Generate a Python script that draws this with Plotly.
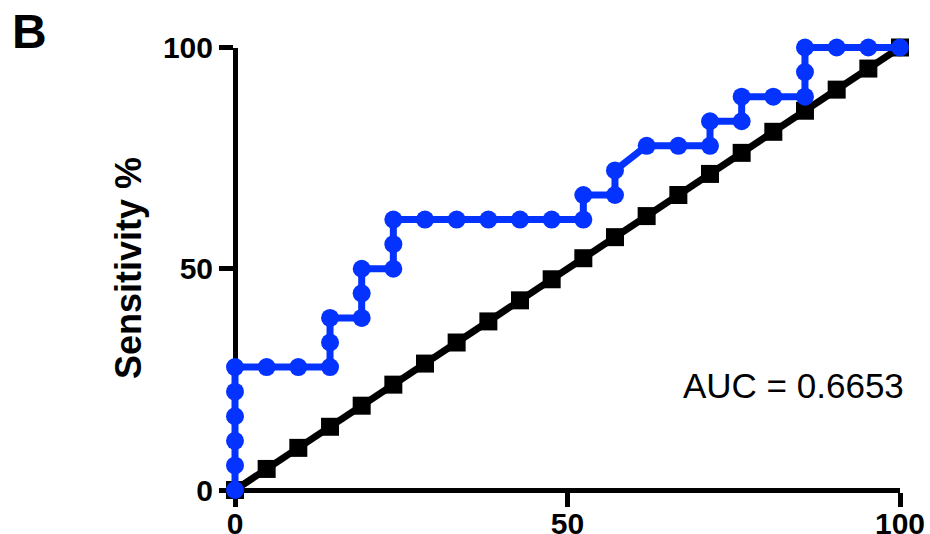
import plotly.graph_objects as go

# ROC curve: 100% - specificity (x) vs sensitivity (y), both in percent
roc_fpr = [0, 0, 0, 0, 0, 0, 4.76, 9.52, 14.29, 14.29, 14.29, 19.05, 19.05, 19.05,
           23.81, 23.81, 23.81, 28.57, 33.33, 38.10, 42.86, 47.62, 52.38, 52.38,
           57.14, 57.14, 61.90, 66.67, 71.43, 71.43, 76.19, 76.19, 80.95, 85.71,
           85.71, 85.71, 90.48, 95.24, 100]
roc_sens = [0, 5.56, 11.11, 16.67, 22.22, 27.78, 27.78, 27.78, 27.78, 33.33, 38.89,
            38.89, 44.44, 50.00, 50.00, 55.56, 61.11, 61.11, 61.11, 61.11, 61.11,
            61.11, 61.11, 66.67, 66.67, 72.22, 77.78, 77.78, 77.78, 83.33, 83.33,
            88.89, 88.89, 88.89, 94.44, 100, 100, 100, 100]

# line of identity (random classifier)
ref_x = [0, 4.76, 9.52, 14.29, 19.05, 23.81, 28.57, 33.33, 38.10, 42.86, 47.62,
         52.38, 57.14, 61.90, 66.67, 71.43, 76.19, 80.95, 85.71, 90.48, 95.24, 100]
ref_y = [0, 4.76, 9.52, 14.29, 19.05, 23.81, 28.57, 33.33, 38.10, 42.86, 47.62,
         52.38, 57.14, 61.90, 66.67, 71.43, 76.19, 80.95, 85.71, 90.48, 95.24, 100]

tick_vals = [0, 50, 100]
tick_text = ["0", "50", "100"]
auc_text = "AUC = 0.6653"
panel_label = "B"
y_title = "Sensitivity %"

W, H = 930, 534
# pixel geometry of the data box
X0, X100 = 235.0, 900.0
Y0, Y100 = 490.0, 47.5
sx = (X100 - X0) / 100.0
sy = (Y0 - Y100) / 100.0

BLUE = "#0433FF"
FONT = "Liberation Sans, Arial, Helvetica, sans-serif"

fig = go.Figure()

# identity line sits on the subplot that carries the visible axes
fig.add_trace(go.Scatter(
    x=ref_x, y=ref_y, mode="lines+markers",
    line=dict(color="black", width=7),
    marker=dict(symbol="square", size=18, color="black", line=dict(width=0)),
    cliponaxis=False, hoverinfo="skip",
))
# ROC curve on an unclipped overlay sharing the same pixel scale
fig.add_trace(go.Scatter(
    x=roc_fpr, y=roc_sens, xaxis="x2", yaxis="y2", mode="lines+markers",
    line=dict(color=BLUE, width=7),
    marker=dict(symbol="circle", size=18, color=BLUE, line=dict(width=0)),
    cliponaxis=False,
))

axis_style = dict(
    range=[0, 100], tickmode="array", tickvals=tick_vals, ticktext=tick_text,
    ticks="outside", ticklen=14, tickwidth=5, tickcolor="black",
    showline=True, linewidth=5, linecolor="black", layer="below traces",
    showgrid=False, zeroline=False, automargin=False, fixedrange=True,
    tickfont=dict(family=FONT, size=30, color="black", weight="bold"),
    anchor="free",
)

fig.update_layout(
    width=W, height=H, template="none",
    margin=dict(l=0, r=0, t=0, b=0, pad=0),
    paper_bgcolor="white", plot_bgcolor="rgba(0,0,0,0)",
    showlegend=False,
    xaxis=dict(domain=[X0 / W, X100 / W], position=(H - Y0) / H,
               ticklabelstandoff=-9, **axis_style),
    yaxis=dict(domain=[(H - Y0) / H, (H - Y100) / H], position=X0 / W, **axis_style),
    xaxis2=dict(domain=[0, 1], range=[-X0 / sx, (W - X0) / sx], visible=False,
                anchor="y2", fixedrange=True),
    yaxis2=dict(domain=[0, 1], range=[-(H - Y0) / sy, Y0 / sy], visible=False,
                anchor="x2", fixedrange=True),
    annotations=[
        dict(text=panel_label, x=10 / W, y=(H - 31) / H, xref="paper", yref="paper",
             xanchor="left", yanchor="middle", showarrow=False,
             font=dict(family=FONT, size=48, color="black", weight="bold")),
        dict(text=y_title, x=128 / W, y=(H - 268) / H, xref="paper", yref="paper",
             xanchor="center", yanchor="middle", textangle=-90, showarrow=False,
             font=dict(family=FONT, size=36, color="black", weight="bold")),
        dict(text=auc_text, x=906 / W, y=(H - 385) / H, xref="paper", yref="paper",
             xanchor="right", yanchor="middle", showarrow=False,
             font=dict(family=FONT, size=35, color="black")),
    ],
)

fig.write_html("out.html")
